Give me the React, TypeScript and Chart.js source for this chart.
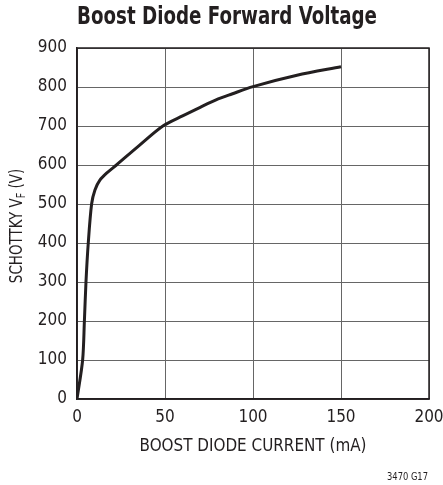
import React, { useEffect, useRef } from "react";
import { Chart, registerables } from "chart.js";

Chart.register(...registerables);

const currentMA = [0, 3.2, 4.2, 5.1, 6.4, 8.3, 10.2, 13, 16.8, 22.4, 35.6, 48.8, 60, 70, 79, 88, 100, 125, 150];
const vfSchottky = [0, 100, 200, 300, 400, 500, 536, 561, 579, 600, 651, 700, 726, 748, 767, 782, 801, 830, 852];
const xTicks = [0, 50, 100, 150, 200];
const yTicks = [0, 100, 200, 300, 400, 500, 600, 700, 800, 900];
const titleText = "Boost Diode Forward Voltage";
const xTitle = "BOOST DIODE CURRENT (mA)";
const yTitleMain = "SCHOTTKY V";
const yTitleSub = "F";
const yTitleEnd = " (V)";
const figId = "3470 G17";

const FONT = "'DejaVu Sans Condensed', 'Liberation Sans', sans-serif";
const INK = "#231f20";

const textPlugin = {
  id: "texts",
  afterDraw(chart: any) {
    const ctx = chart.ctx;
    ctx.save();
    ctx.fillStyle = INK;
    ctx.textBaseline = "middle";
    // title
    ctx.font = `bold 24px ${FONT}`;
    ctx.textAlign = "center";
    ctx.fillText(titleText, 227, 18, 300);
    // x title
    ctx.font = `17px ${FONT}`;
    ctx.fillText(xTitle, 253, 447, 227);
    // fig id
    ctx.font = `11px ${FONT}`;
    ctx.textAlign = "right";
    ctx.fillText(figId, 428, 477, 41);
    // y title
    ctx.translate(18, 226);
    ctx.rotate(-Math.PI / 2);
    ctx.font = `17px ${FONT}`;
    const w1 = ctx.measureText(yTitleMain).width * 0.88;
    ctx.font = `12px ${FONT}`;
    const w2 = ctx.measureText(yTitleSub).width * 0.88;
    ctx.font = `17px ${FONT}`;
    const w3 = ctx.measureText(yTitleEnd).width * 0.88;
    let x = -(w1 + w2 + w3) / 2;
    ctx.textAlign = "left";
    ctx.fillText(yTitleMain, x, 0, w1);
    x += w1;
    ctx.font = `12px ${FONT}`;
    ctx.fillText(yTitleSub, x, 4, w2);
    x += w2;
    ctx.font = `17px ${FONT}`;
    ctx.fillText(yTitleEnd, x, 0, w3);
    ctx.restore();
  },
};

export default function App() {
  const ref = useRef<HTMLCanvasElement>(null);
  useEffect(() => {
    document.body.style.margin = "0";
    const chart = new Chart(ref.current!, {
      type: "line",
      data: {
        datasets: [
          {
            data: currentMA.map((x, i) => ({ x, y: vfSchottky[i] })),
            borderColor: INK,
            borderWidth: 3,
            pointRadius: 0,
            tension: 0.3,
            fill: false,
          },
        ],
      },
      options: {
        animation: false,
        responsive: false,
        maintainAspectRatio: false,
        layout: { padding: { top: 48, right: 0, left: 0, bottom: 0 } },
        plugins: { legend: { display: false }, tooltip: { enabled: false }, title: { display: false } },
        scales: {
          x: {
            type: "linear",
            min: 0,
            max: 200,
            afterFit: (s: any) => { s.height = 86; s.paddingRight = 14; },
            afterBuildTicks: (s: any) => { s.ticks = xTicks.map((v) => ({ value: v })); },
            grid: { color: "#666", lineWidth: 1, drawTicks: false },
            border: { color: INK, width: 1.5 },
            ticks: { color: INK, font: { family: FONT, size: 17 }, padding: 8, maxRotation: 0 },
          },
          y: {
            type: "linear",
            min: 0,
            max: 900,
            afterFit: (s: any) => { s.width = 77; },
            afterBuildTicks: (s: any) => { s.ticks = yTicks.map((v) => ({ value: v })); },
            grid: { color: "#666", lineWidth: 1, drawTicks: false },
            border: { color: INK, width: 1.5 },
            ticks: { color: INK, font: { family: FONT, size: 17 }, padding: 10 },
          },
        },
      },
      plugins: [textPlugin, {
        id: "frame",
        afterDraw(chart: any) {
          const { ctx, chartArea: a } = chart;
          ctx.save();
          ctx.strokeStyle = INK;
          ctx.lineWidth = 1.5;
          ctx.strokeRect(a.left, a.top, a.right - a.left, a.bottom - a.top);
          ctx.restore();
        },
      }],
    } as any);
    return () => chart.destroy();
  }, []);
  return (
    <div style={{ position: "absolute", left: 0, top: 0, width: 443, height: 485 }}>
      <canvas ref={ref} width={443} height={485} style={{ width: 443, height: 485 }} />
    </div>
  );
}
